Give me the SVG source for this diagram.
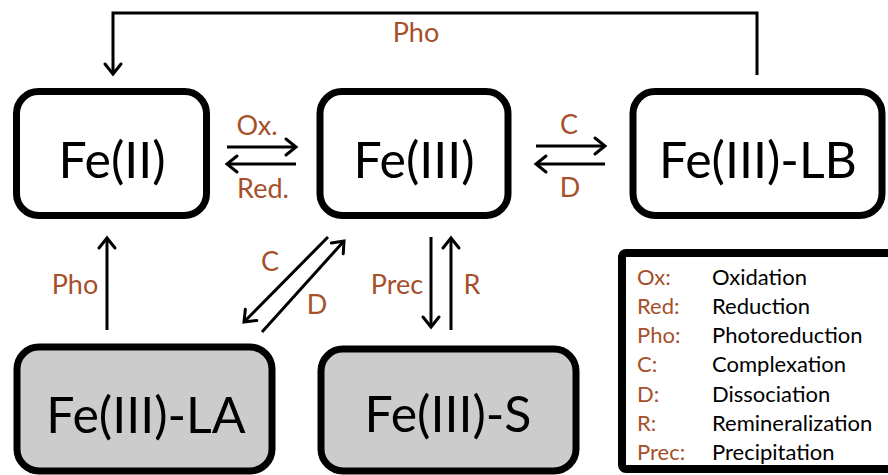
<svg xmlns="http://www.w3.org/2000/svg" width="888" height="475" viewBox="0 0 888 475">
  <defs>
    <style>
      .box { fill: #ffffff; stroke: #000000; stroke-width: 7; }
      .box.solid { fill: #cccccc; }
      .node-text { font-family: Lato, "Open Sans", sans-serif; font-size: 50px; fill: #000000; text-anchor: middle; }
      .lbl { font-family: Lato, "Open Sans", sans-serif; font-size: 27px; fill: #A5502A; text-anchor: middle; }
      .conn { fill: none; stroke: #000000; stroke-width: 3; marker-end: url(#head); }
      .legend-box { fill: #ffffff; stroke: #000000; stroke-width: 8; }
      .key { font-family: Lato, "Open Sans", sans-serif; font-size: 22px; fill: #A5502A; }
      .def { font-family: Lato, "Open Sans", sans-serif; font-size: 22px; fill: #000000; }
    </style>
    <!-- open chevron arrowhead -->
    <marker id="head" markerUnits="userSpaceOnUse" markerWidth="16" markerHeight="18" refX="12" refY="8" orient="auto" overflow="visible">
      <path d="M2,0 L12,8 L2,16" fill="none" stroke="#000000" stroke-width="3" stroke-linecap="round" stroke-linejoin="miter"/>
    </marker>
  </defs>

  <rect width="888" height="475" fill="#ffffff"/>

  <!-- connectors -->
  <g id="connectors">
    <!-- photoreduction loop from Fe(III)-LB back to Fe(II) -->
    <path class="conn" d="M757,75 V13 H113 V74"/>
    <!-- oxidation / reduction -->
    <path class="conn" d="M227,147 H296"/>
    <path class="conn" d="M296,164 H227"/>
    <!-- complexation / dissociation with LB -->
    <path class="conn" d="M536,146 H605"/>
    <path class="conn" d="M605,164 H536"/>
    <!-- photoreduction of LA -->
    <path class="conn" d="M107,330 V238"/>
    <!-- complexation / dissociation with LA -->
    <path class="conn" d="M328,237 L244,322"/>
    <path class="conn" d="M262,332 L344,241"/>
    <!-- precipitation / remineralization -->
    <path class="conn" d="M431,237 V327"/>
    <path class="conn" d="M451,330 V238"/>
  </g>

  <!-- connector labels -->
  <g id="connector-labels">
    <text class="lbl" x="416" y="42">Pho</text>
    <text class="lbl" x="257" y="135">Ox.</text>
    <text class="lbl" x="263" y="198">Red.</text>
    <text class="lbl" x="569" y="134">C</text>
    <text class="lbl" x="570" y="197">D</text>
    <text class="lbl" x="75" y="294">Pho</text>
    <text class="lbl" x="270" y="271">C</text>
    <text class="lbl" x="317" y="314">D</text>
    <text class="lbl" x="397" y="294">Prec</text>
    <text class="lbl" x="472" y="294">R</text>
  </g>

  <g id="fe2">
    <rect class="box" x="16.5" y="91.5" width="190" height="124" rx="22"/>
    <text class="node-text" x="112" y="178">Fe(II)</text>
  </g>

  <g id="fe3">
    <rect class="box" x="320" y="91.5" width="188" height="124" rx="22"/>
    <text class="node-text" x="414" y="178">Fe(III)</text>
  </g>

  <g id="fe3-lb">
    <rect class="box" x="633" y="91.5" width="249" height="124" rx="22"/>
    <text class="node-text" x="758" y="178">Fe(III)-LB</text>
  </g>

  <g id="fe3-la">
    <rect class="box solid" x="17" y="347" width="255" height="124" rx="22"/>
    <text class="node-text" x="146" y="433">Fe(III)-LA</text>
  </g>

  <g id="fe3-s">
    <rect class="box solid" x="321" y="349" width="255" height="122" rx="22"/>
    <text class="node-text" x="448" y="432">Fe(III)-S</text>
  </g>

  <g id="legend">
    <rect class="legend-box" x="622" y="253" width="275" height="216" rx="4"/>
    <text class="key" x="637" y="285">Ox:</text>
    <text class="def" x="712" y="285">Oxidation</text>
    <text class="key" x="637" y="314">Red:</text>
    <text class="def" x="712" y="314">Reduction</text>
    <text class="key" x="637" y="343">Pho:</text>
    <text class="def" x="712" y="343">Photoreduction</text>
    <text class="key" x="637" y="372">C:</text>
    <text class="def" x="712" y="372">Complexation</text>
    <text class="key" x="637" y="402">D:</text>
    <text class="def" x="712" y="402">Dissociation</text>
    <text class="key" x="637" y="431">R:</text>
    <text class="def" x="712" y="431">Remineralization</text>
    <text class="key" x="637" y="460">Prec:</text>
    <text class="def" x="712" y="460">Precipitation</text>
  </g>
</svg>
